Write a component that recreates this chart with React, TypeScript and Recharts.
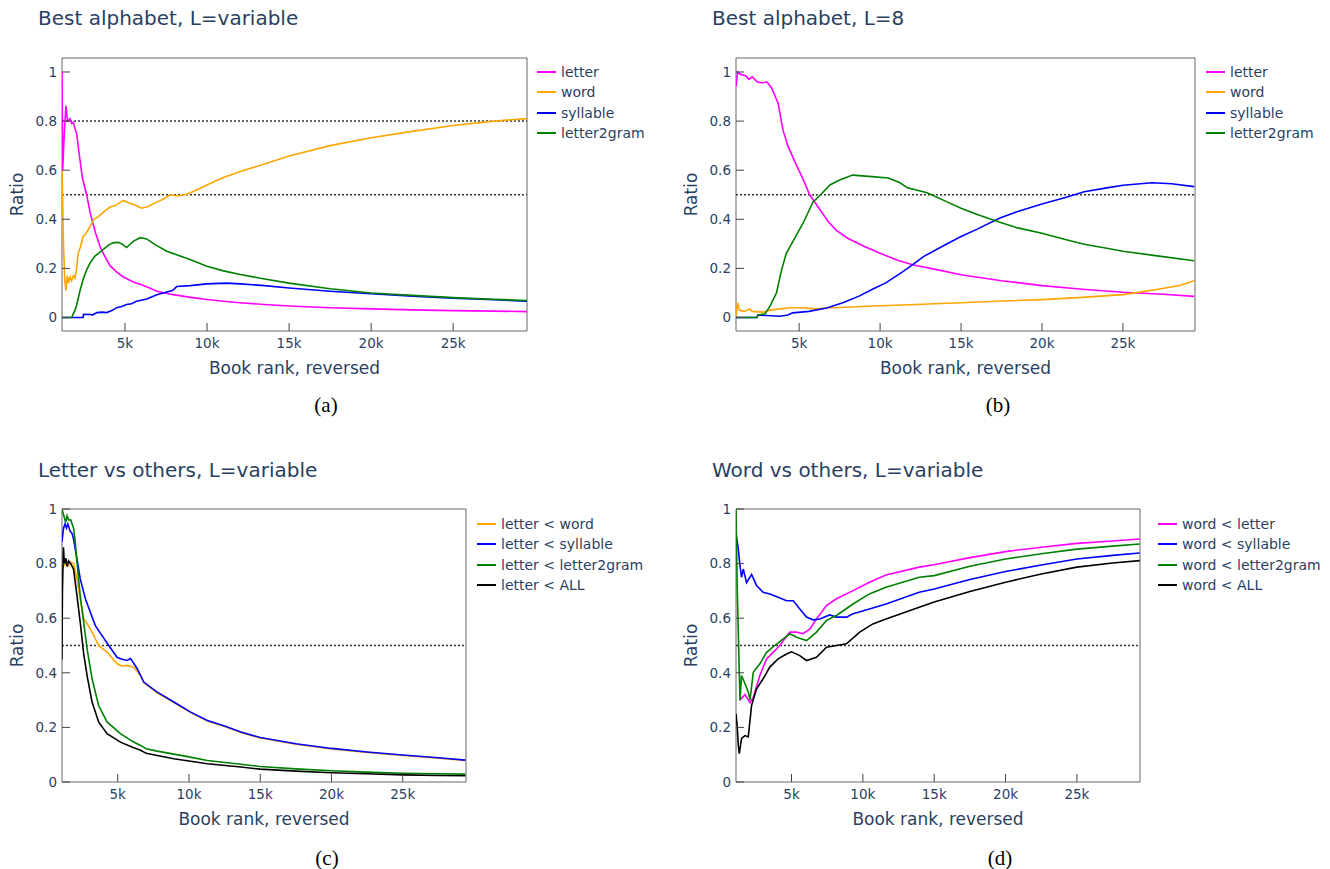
import React from "react";
import { LineChart, Line, XAxis, YAxis, ReferenceLine, ReferenceArea, Legend } from "recharts";

type Pt = [number, number];

const FONT = "'DejaVu Sans', Verdana, sans-serif";
const TEXT = "#2a3f5f";

const X_TICKS = [5000, 10000, 15000, 20000, 25000];
const Y_TICKS = [0, 0.2, 0.4, 0.6, 0.8, 1];

// (a) best alphabet, L=variable
const A_LETTER: Pt[] = [[1160,1.0],[1200,0.6],[1300,0.75],[1400,0.862],[1480,0.81],[1560,0.8],[1650,0.81],[1750,0.79],[1850,0.795],[1950,0.77],[2050,0.75],[2200,0.67],[2400,0.57],[2660,0.5],[2900,0.42],[3200,0.345],[3500,0.285],[3800,0.245],[4100,0.21],[4500,0.185],[4900,0.165],[5500,0.145],[6000,0.133],[6500,0.12],[6940,0.107],[7930,0.093],[9000,0.082],[10000,0.073],[11000,0.066],[12000,0.06],[13500,0.053],[15000,0.047],[17500,0.04],[20000,0.035],[22500,0.031],[25000,0.028],[27500,0.026],[29500,0.024]];
const A_WORD: Pt[] = [[1160,0.6],[1250,0.3],[1330,0.15],[1400,0.11],[1480,0.17],[1560,0.14],[1650,0.165],[1750,0.15],[1850,0.17],[1950,0.16],[2050,0.2],[2140,0.26],[2300,0.29],[2440,0.33],[2600,0.34],[2870,0.37],[3100,0.4],[3360,0.41],[3700,0.43],[4090,0.45],[4400,0.455],[4880,0.477],[5300,0.465],[5700,0.455],[6020,0.445],[6400,0.452],[6940,0.47],[7400,0.485],[7750,0.5],[8200,0.495],[8770,0.502],[9400,0.52],[9990,0.54],[11000,0.57],[12020,0.595],[13500,0.625],[15000,0.658],[17500,0.7],[20000,0.732],[22500,0.758],[25000,0.782],[27500,0.8],[29500,0.81]];
const A_SYLLABLE: Pt[] = [[1160,0],[2450,0],[2470,0.013],[2900,0.012],[3000,0.01],[3300,0.02],[3600,0.022],[3880,0.02],[4200,0.028],[4500,0.04],[4800,0.045],[5100,0.053],[5400,0.056],[5700,0.066],[6330,0.075],[6940,0.093],[7550,0.104],[7900,0.11],[8150,0.126],[8970,0.13],[9990,0.137],[11200,0.14],[12020,0.137],[13500,0.13],[15000,0.12],[17500,0.107],[20000,0.097],[22500,0.087],[25000,0.079],[27500,0.072],[29500,0.066]];
const A_L2G: Pt[] = [[1160,0],[1750,0],[1950,0.03],[2050,0.05],[2260,0.11],[2470,0.16],[2670,0.195],[2900,0.225],[3170,0.25],[3400,0.262],[3660,0.276],[4000,0.295],[4270,0.304],[4600,0.306],[4800,0.3],[5100,0.285],[5500,0.31],[5920,0.325],[6320,0.32],[6830,0.297],[7550,0.27],[8360,0.25],[9000,0.235],[9990,0.209],[11000,0.19],[12020,0.175],[13500,0.157],[15000,0.14],[17500,0.117],[20000,0.1],[22500,0.09],[25000,0.081],[27500,0.074],[29500,0.069]];

// (b) best alphabet, L=8
const B_LETTER: Pt[] = [[1100,0.94],[1200,1.0],[1400,0.99],[1700,0.985],[1900,0.97],[2100,0.98],[2400,0.96],[2700,0.955],[3000,0.96],[3300,0.935],[3700,0.873],[4000,0.764],[4300,0.7],[4800,0.625],[5200,0.57],[5650,0.5],[6150,0.452],[6800,0.39],[7300,0.355],[8000,0.323],[9000,0.29],[10000,0.262],[11000,0.235],[12000,0.215],[13500,0.195],[15000,0.174],[17500,0.15],[20000,0.13],[22500,0.115],[25000,0.103],[27500,0.095],[29400,0.086]];
const B_WORD: Pt[] = [[1100,0],[1190,0.06],[1300,0.03],[1600,0.025],[1950,0.035],[2100,0.025],[2800,0.022],[3200,0.03],[3800,0.035],[4500,0.04],[5200,0.04],[6000,0.035],[7000,0.04],[8000,0.042],[9500,0.047],[11000,0.05],[13000,0.055],[15000,0.06],[17500,0.067],[20000,0.073],[22500,0.082],[25000,0.093],[27000,0.113],[28500,0.13],[29400,0.15]];
const B_SYLLABLE: Pt[] = [[1100,0],[2400,0],[2450,0.01],[3000,0.008],[3800,0.005],[4300,0.01],[4600,0.019],[5600,0.025],[6700,0.039],[7700,0.06],[8700,0.087],[9500,0.114],[10350,0.141],[11200,0.178],[11700,0.2],[12700,0.249],[14000,0.295],[15000,0.33],[16000,0.36],[17400,0.405],[18500,0.432],[20000,0.462],[21500,0.49],[22600,0.512],[24000,0.528],[25000,0.539],[26800,0.549],[28000,0.545],[29400,0.533]];
const B_L2G: Pt[] = [[1100,0],[2400,0],[2450,0.01],[2900,0.015],[3200,0.046],[3600,0.1],[3900,0.19],[4200,0.26],[4700,0.32],[5250,0.385],[5850,0.47],[6400,0.505],[6900,0.54],[7500,0.56],[8300,0.58],[9500,0.574],[10500,0.568],[11200,0.55],[11700,0.528],[12900,0.508],[14000,0.475],[15000,0.445],[16000,0.42],[17400,0.388],[18500,0.365],[20000,0.343],[21500,0.317],[22600,0.298],[24000,0.282],[25000,0.27],[27000,0.252],[29400,0.231]];

// (c) letter vs others
const C_WORD: Pt[] = [[1085,0.78],[1300,0.8],[1500,0.79],[1700,0.805],[1900,0.8],[2140,0.744],[2370,0.671],[2610,0.598],[2850,0.58],[3200,0.549],[3660,0.5],[4250,0.476],[4950,0.433],[5300,0.425],[5660,0.427],[6130,0.42],[6600,0.39],[6830,0.364],[7770,0.327],[8940,0.291],[10120,0.254],[11290,0.223],[12500,0.203],[13640,0.181],[15000,0.161],[17500,0.138],[20000,0.121],[22500,0.108],[25000,0.097],[27500,0.087],[29400,0.079]];
const C_SYLLABLE: Pt[] = [[1085,0.88],[1200,0.93],[1300,0.945],[1400,0.93],[1500,0.945],[1650,0.92],[1800,0.91],[1900,0.89],[2140,0.817],[2370,0.744],[2730,0.671],[3080,0.622],[3430,0.573],[3900,0.536],[4370,0.5],[4950,0.457],[5300,0.45],[5660,0.445],[5900,0.452],[6370,0.415],[6830,0.366],[7770,0.329],[8940,0.293],[10120,0.256],[11290,0.225],[12500,0.205],[13640,0.183],[15000,0.163],[17500,0.14],[20000,0.123],[22500,0.11],[25000,0.099],[27500,0.089],[29400,0.08]];
const C_L2G: Pt[] = [[1085,1.0],[1250,0.97],[1350,0.95],[1450,0.975],[1550,0.96],[1700,0.96],[1900,0.93],[2000,0.89],[2140,0.805],[2370,0.683],[2610,0.585],[2850,0.488],[3200,0.378],[3660,0.28],[4250,0.22],[5190,0.177],[6000,0.15],[6600,0.134],[7000,0.122],[7770,0.113],[8940,0.102],[10000,0.092],[11290,0.079],[13640,0.065],[15000,0.057],[17500,0.048],[20000,0.041],[22500,0.036],[25000,0.032],[27500,0.03],[29400,0.029]];
const C_ALL: Pt[] = [[1085,0.45],[1120,0.7],[1190,0.86],[1260,0.8],[1350,0.82],[1450,0.79],[1550,0.81],[1700,0.8],[1900,0.78],[2140,0.683],[2370,0.585],[2610,0.47],[2850,0.39],[3200,0.293],[3660,0.22],[4250,0.177],[5190,0.146],[6000,0.128],[6600,0.116],[7000,0.105],[7770,0.097],[8940,0.085],[10000,0.077],[11290,0.067],[13640,0.055],[15000,0.047],[17500,0.04],[20000,0.034],[22500,0.03],[25000,0.026],[27500,0.024],[29400,0.023]];

// (d) word vs others
const D_LETTER: Pt[] = [[1390,0.3],[1740,0.32],[2090,0.29],[2320,0.31],[2780,0.39],[3250,0.451],[3710,0.475],[4180,0.5],[4880,0.549],[5350,0.549],[5810,0.543],[6280,0.56],[6750,0.597],[7450,0.646],[8150,0.671],[9310,0.701],[10460,0.732],[11620,0.758],[13950,0.787],[15000,0.796],[17500,0.822],[20000,0.844],[22500,0.86],[25000,0.874],[27500,0.883],[29400,0.89]];
const D_SYLLABLE: Pt[] = [[1112,0.91],[1270,0.854],[1390,0.793],[1500,0.75],[1620,0.78],[1850,0.73],[2200,0.76],[2550,0.72],[3010,0.695],[3480,0.689],[4060,0.677],[4650,0.664],[5120,0.664],[5580,0.634],[6050,0.604],[6510,0.594],[6980,0.597],[7680,0.612],[8150,0.604],[8850,0.604],[9310,0.616],[10460,0.634],[11620,0.652],[13950,0.695],[15000,0.707],[17500,0.742],[20000,0.771],[22500,0.795],[25000,0.817],[27500,0.83],[29400,0.839]];
const D_L2G: Pt[] = [[1112,1.0],[1200,0.7],[1390,0.299],[1500,0.39],[1740,0.36],[1970,0.33],[2090,0.3],[2320,0.402],[2780,0.433],[3250,0.475],[3830,0.5],[4420,0.524],[4880,0.543],[5350,0.53],[6050,0.518],[6750,0.549],[7450,0.592],[8150,0.61],[9310,0.652],[10460,0.689],[11620,0.713],[13950,0.75],[15000,0.756],[17500,0.79],[20000,0.817],[22500,0.836],[25000,0.853],[27500,0.864],[29400,0.872]];
const D_ALL: Pt[] = [[1112,0.25],[1200,0.2],[1270,0.134],[1340,0.104],[1500,0.16],[1740,0.17],[1970,0.165],[2200,0.28],[2550,0.341],[3010,0.378],[3480,0.421],[4060,0.451],[4650,0.469],[5000,0.477],[5580,0.463],[6050,0.445],[6750,0.457],[7450,0.494],[8150,0.5],[8850,0.506],[9780,0.549],[10700,0.579],[11620,0.597],[13950,0.64],[15000,0.659],[17500,0.698],[20000,0.732],[22500,0.762],[25000,0.787],[27500,0.802],[29400,0.811]];

type Series = { name: string; color: string; pts: Pt[] };
type PanelDef = {
  title: string;
  caption: string;
  series: Series[];
  refs: number[];
  xDomain: [number, number];
  yDomain: [number, number];
  box: { left: number; top: number; width: number; height: number };
  plot: { left: number; top: number; right: number; bottom: number };
  legend: { left: number; top: number };
  titlePos: { left: number; top: number };
  capPos: { x: number; y: number };
};

const PANELS: PanelDef[] = [
  {
    title: "Best alphabet, L=variable",
    caption: "(a)",
    series: [
      { name: "letter", color: "#ff00ff", pts: A_LETTER },
      { name: "word", color: "#ffa500", pts: A_WORD },
      { name: "syllable", color: "#0000ff", pts: A_SYLLABLE },
      { name: "letter2gram", color: "#008000", pts: A_L2G },
    ],
    refs: [0.8, 0.5],
    xDomain: [1160, 29500],
    yDomain: [-0.055, 1.057],
    box: { left: 0, top: 0, width: 665, height: 430 },
    plot: { left: 62, top: 58, right: 527, bottom: 331 },
    legend: { left: 537, top: 62 },
    titlePos: { left: 38, top: 6 },
    capPos: { x: 326, y: 405 },
  },
  {
    title: "Best alphabet, L=8",
    caption: "(b)",
    series: [
      { name: "letter", color: "#ff00ff", pts: B_LETTER },
      { name: "word", color: "#ffa500", pts: B_WORD },
      { name: "syllable", color: "#0000ff", pts: B_SYLLABLE },
      { name: "letter2gram", color: "#008000", pts: B_L2G },
    ],
    refs: [0.5],
    xDomain: [1100, 29450],
    yDomain: [-0.055, 1.057],
    box: { left: 665, top: 0, width: 665, height: 430 },
    plot: { left: 736, top: 58, right: 1195, bottom: 331 },
    legend: { left: 1206, top: 62 },
    titlePos: { left: 712, top: 6 },
    capPos: { x: 998, y: 405 },
  },
  {
    title: "Letter vs others, L=variable",
    caption: "(c)",
    series: [
      { name: "letter < word", color: "#ffa500", pts: C_WORD },
      { name: "letter < syllable", color: "#0000ff", pts: C_SYLLABLE },
      { name: "letter < letter2gram", color: "#008000", pts: C_L2G },
      { name: "letter < ALL", color: "#000000", pts: C_ALL },
    ],
    refs: [0.5],
    xDomain: [1090, 29440],
    yDomain: [0, 1],
    box: { left: 0, top: 430, width: 665, height: 439 },
    plot: { left: 62, top: 509, right: 466, bottom: 782 },
    legend: { left: 477, top: 514 },
    titlePos: { left: 38, top: 458 },
    capPos: { x: 327, y: 858 },
  },
  {
    title: "Word vs others, L=variable",
    caption: "(d)",
    series: [
      { name: "word < letter", color: "#ff00ff", pts: D_LETTER },
      { name: "word < syllable", color: "#0000ff", pts: D_SYLLABLE },
      { name: "word < letter2gram", color: "#008000", pts: D_L2G },
      { name: "word < ALL", color: "#000000", pts: D_ALL },
    ],
    refs: [0.5],
    xDomain: [1110, 29420],
    yDomain: [0, 1],
    box: { left: 665, top: 430, width: 665, height: 439 },
    plot: { left: 736, top: 509, right: 1140, bottom: 782 },
    legend: { left: 1158, top: 514 },
    titlePos: { left: 712, top: 458 },
    capPos: { x: 1000, y: 858 },
  },
];

const fmtX = (v: number) => `${v / 1000}k`;
const fmtY = (v: number) => `${Math.round(v * 10) / 10}`;

const XTick = (props: any) => {
  const { x, y, payload } = props;
  return (
    <g>
      <line x1={x} x2={x} y1={y - 7} y2={y - 15} stroke="#444" strokeWidth={1} />
      <text x={x} y={y} dy="0.75em" textAnchor="middle" fontFamily={FONT} fontSize={13.5} fill={TEXT}>
        {fmtX(payload.value)}
      </text>
    </g>
  );
};

const YTick = (props: any) => {
  const { x, y, payload } = props;
  return (
    <g>
      <line x1={x + 5} x2={x + 13} y1={y} y2={y} stroke="#444" strokeWidth={1} />
      <text x={x} y={y} dy="0.36em" textAnchor="end" fontFamily={FONT} fontSize={13.5} fill={TEXT}>
        {fmtY(payload.value)}
      </text>
    </g>
  );
};

const XTitle = (props: any) => {
  const vb = props.viewBox || {};
  const cx = vb.x + vb.width / 2;
  const cy = vb.y + 37;
  return (
    <text x={cx} y={cy} dy="0.36em" textAnchor="middle" fontFamily={FONT} fontSize={17} fill={TEXT}>
      Book rank, reversed
    </text>
  );
};

const YTitle = (props: any) => {
  const vb = props.viewBox || {};
  const cx = vb.x + vb.width - 45;
  const cy = vb.y + vb.height / 2;
  return (
    <text x={cx} y={cy} dy="0.36em" transform={`rotate(-90 ${cx} ${cy})`} textAnchor="middle" fontFamily={FONT} fontSize={17} fill={TEXT}>
      Ratio
    </text>
  );
};

function Panel({ p }: { p: PanelDef }) {
  const { box, plot } = p;
  const margin = {
    top: plot.top - box.top,
    left: plot.left - box.left - 40,
    right: box.left + box.width - plot.right,
    bottom: box.top + box.height - plot.bottom - 30,
  };
  const renderLegend = () => (
    <div style={{ fontFamily: FONT, fontSize: 14, color: TEXT }}>
      {p.series.map((s) => (
        <div key={s.name} style={{ display: "flex", alignItems: "center", height: 20.3, whiteSpace: "nowrap" }}>
          <svg width={19} height={4} style={{ display: "block" }}>
            <line x1={0} x2={19} y1={2} y2={2} stroke={s.color} strokeWidth={2} />
          </svg>
          <span style={{ marginLeft: 5 }}>{s.name}</span>
        </div>
      ))}
    </div>
  );
  return (
    <div style={{ position: "absolute", left: box.left, top: box.top, width: box.width, height: box.height }}>
      <div
        style={{
          position: "absolute",
          left: p.titlePos.left - box.left,
          top: p.titlePos.top - box.top,
          fontFamily: FONT,
          fontSize: 20,
          lineHeight: "24px",
          color: TEXT,
          whiteSpace: "nowrap",
        }}
      >
        {p.title}
      </div>
      <LineChart width={box.width} height={box.height} margin={margin}>
        <XAxis
          type="number"
          dataKey="x"
          domain={p.xDomain}
          allowDataOverflow
          ticks={X_TICKS}
          interval={0}
          tickSize={0}
          tickMargin={7}
          axisLine={false}
          tick={<XTick />}
          height={30}
          label={<XTitle />}
        />
        <YAxis
          type="number"
          domain={p.yDomain}
          allowDataOverflow
          ticks={Y_TICKS}
          interval={0}
          tickSize={0}
          tickMargin={5}
          axisLine={false}
          tick={<YTick />}
          width={40}
          label={<YTitle />}
        />
        {p.refs.map((r) => (
          <ReferenceLine key={r} y={r} stroke="#333" strokeWidth={1.5} strokeDasharray="2 2" />
        ))}
        {p.series.map((s) => (
          <Line
            key={s.name}
            name={s.name}
            data={s.pts.map(([x, y]) => ({ x, y }))}
            dataKey="y"
            type="linear"
            stroke={s.color}
            strokeWidth={1.6}
            dot={false}
            activeDot={false}
            isAnimationActive={false}
          />
        ))}
        <ReferenceArea
          x1={p.xDomain[0]}
          x2={p.xDomain[1]}
          y1={p.yDomain[0]}
          y2={p.yDomain[1]}
          fill="none"
          fillOpacity={0}
          stroke="#666"
          strokeWidth={1}
          strokeOpacity={1}
          ifOverflow="visible"
        />
        <Legend
          layout="vertical"
          align="center"
          verticalAlign="middle"
          content={renderLegend}
          wrapperStyle={{ left: p.legend.left - box.left, top: p.legend.top - box.top, width: "auto" }}
        />
      </LineChart>
      <div
        style={{
          position: "absolute",
          left: p.capPos.x - box.left - 30,
          top: p.capPos.y - box.top - 13,
          width: 60,
          textAlign: "center",
          fontFamily: "'Liberation Serif', 'DejaVu Serif', serif",
          fontSize: 21,
          lineHeight: "26px",
          color: "#000",
        }}
      >
        {p.caption}
      </div>
    </div>
  );
}

export default function App() {
  return (
    <div style={{ position: "absolute", left: 0, top: 0, width: 1330, height: 869, background: "#fff", overflow: "hidden" }}>
      {PANELS.map((p) => (
        <Panel key={p.caption} p={p} />
      ))}
    </div>
  );
}
